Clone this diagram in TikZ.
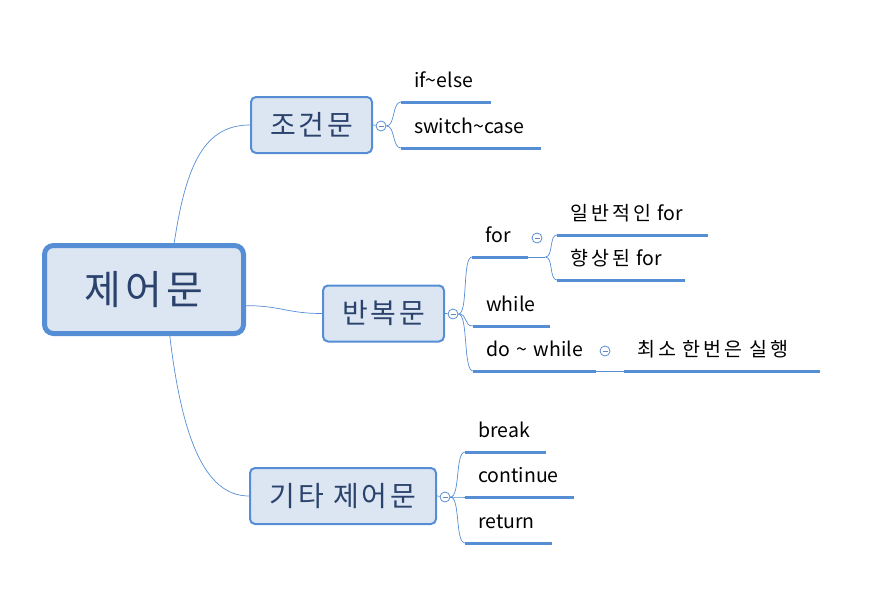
\documentclass[tikz,border=0pt]{standalone}
\usepackage{fontspec}
\setmainfont{Noto Sans CJK KR}
\newfontfamily\kr[LetterSpace=10]{Noto Sans CJK KR}
\newfontfamily\krleaf[LetterSpace=16]{Noto Sans CJK KR}
\usepackage{tikz}
\usetikzlibrary{positioning}
\definecolor{mmblue}{RGB}{85,142,213}
\definecolor{mmfill}{RGB}{220,230,242}
\definecolor{mmtext}{RGB}{42,66,108}

\begin{document}
\begin{tikzpicture}[
    x=1pt, y=-1pt,
    topic/.style={draw=mmblue, fill=mmfill, rounded corners=5pt, line width=2pt, text=mmtext, inner sep=0pt, minimum height=56pt, font=\kr\fontsize{28}{32}\selectfont},
    central/.style={topic, line width=5pt, rounded corners=9pt, font=\kr\fontsize{40}{46}\selectfont},
    uline/.style={draw=mmblue, line width=3pt},
    leaf/.style={anchor=south west, inner xsep=13pt, inner ysep=14pt, text height=12pt, text depth=0pt, text width=#1, align=left, font=\fontsize{19.5}{22}\selectfont,
      execute at begin node=\hbox\bgroup, execute at end node=\egroup,
      append after command={(\tikzlastnode.south west) edge[uline] (\tikzlastnode.south east)}},
    fold/.style={circle, draw=mmblue, fill=white, line width=0.8pt, minimum size=10pt, inner sep=0pt,
      path picture={\draw[mmblue!60!gray, line width=0.8pt] ([xshift=-2.5pt]path picture bounding box.center) -- ([xshift=2.5pt]path picture bounding box.center);}},
    link/.style={draw=mmblue, line width=0.7pt}
  ]
    \useasboundingbox (0,0) rectangle (877,610);

    \node[central, minimum width=199pt, minimum height=88pt] (main) at (144,289.5) {제어문};
    \node[topic, minimum width=121pt] (cond) at (311.5,125) {조건문};
    \node[topic, minimum width=121pt] (loop) at (383.5,313.5) {반복문};
    \node[topic, minimum width=186pt] (misc) at (343,496) {기타 제어문};

    \node[fold] (fcond) at (381,126) {};
    \node[fold] (floop) at (453,314) {};
    \node[fold] (fmisc) at (445,497) {};
    \node[fold] (ffor) at (537,238) {};
    \node[fold] (fdo) at (605,351) {};

    \node[leaf=64pt] (ifelse) at (401,102) {if\textasciitilde else};
    \node[leaf=114pt] (switch) at (401,148) {switch\textasciitilde case};
    \node[leaf=30pt] (for) at (472,257) {for};
    \node[leaf=125pt] (forgen) at (557,235) {{\krleaf 일반적인} for};
    \node[leaf=102pt] (forenh) at (557,280) {{\krleaf 향상된} for};
    \node[leaf=51pt] (while) at (473,326) {while};
    \node[leaf=97pt] (dowhile) at (473,371) {do \textasciitilde{} while};
    \node[leaf=170pt] (once) at (624,371) {\krleaf 최소 한번은 실행};
    \node[leaf=55pt] (break) at (465,452) {break};
    \node[leaf=83pt] (cont) at (465,497) {continue};
    \node[leaf=61pt] (return) at (465,543) {return};

    \draw[link] (main.57) .. controls +(12,-80) and +(-45,0) .. (cond.west);
    \draw[link] (main.-9) .. controls +(35,0) and +(-35,0) .. (loop.west);
    \draw[link] (main.-61) .. controls +(12,100) and +(-45,0) .. (misc.west);

    \draw[link] (cond.east) -- (fcond);
    \draw[link] (loop.east) -- (floop);
    \draw[link] (misc.east) -- (fmisc);
    \foreach \n in {ifelse,switch} {
      \draw[link] (fcond.east) .. controls +(9,0) and +(-9,0) .. (\n.south west);
    }
    \foreach \n in {for,while,dowhile} {
      \draw[link] (floop.east) .. controls +(10,0) and +(-10,0) .. (\n.south west);
    }
    \foreach \n in {break,cont,return} {
      \draw[link] (fmisc.east) .. controls +(10,0) and +(-10,0) .. (\n.south west);
    }
    \draw[link] (for.south east) -- ++(17,0) coordinate (forfork);
    \foreach \n in {forgen,forenh} {
      \draw[link] (forfork) .. controls +(8,0) and +(-8,0) .. (\n.south west);
    }
    \draw[link] (dowhile.south east) -- (once.south west);
\end{tikzpicture}
\end{document}
